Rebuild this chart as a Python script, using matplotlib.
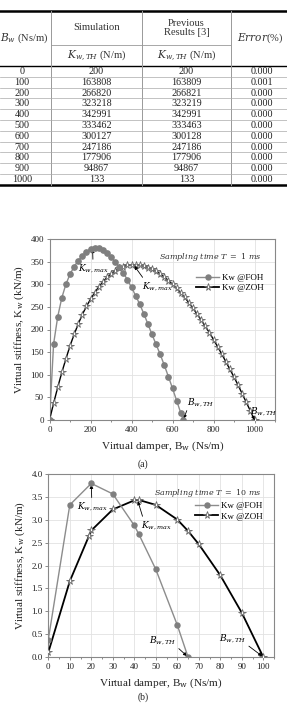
import numpy as np
import matplotlib.pyplot as plt
from matplotlib.ticker import MultipleLocator, FormatStrFormatter
from matplotlib.lines import Line2D

plt.rcParams['font.family'] = ['Liberation Serif', 'DejaVu Serif']
plt.rcParams['mathtext.fontset'] = 'dejavuserif'

# table values
b_tab = [0, 100, 200, 300, 400, 500, 600, 700, 800, 900, 1000]
k_sim = [200, 163808, 266820, 323218, 342991, 333462, 300127, 247186, 177906, 94867, 133]
k_prev = [200, 163809, 266821, 323219, 342991, 333463, 300128, 247186, 177906, 94867, 133]
err = ['0.000', '0.001', '0.000', '0.000', '0.000', '0.000',
       '0.000', '0.000', '0.000', '0.000', '0.000']

# (a) T = 1 ms, K in kN/m
b_foh_a = [0, 20, 40, 60, 80, 100, 120, 140, 160, 180, 200, 220, 240, 260, 280, 300,
           320, 340, 360, 380, 400, 420, 440, 460, 480, 500, 520, 540, 560, 580, 600,
           620, 640, 652]
k_foh_a = [0, 168, 228, 270, 300, 322, 339, 352, 363, 372, 378, 381, 380, 376, 369, 360,
           350, 338, 325, 310, 293, 275, 256, 235, 212, 189, 167, 145, 121, 96, 70,
           43, 16, 0]
b_zoh_a = [0, 20, 40, 60, 80, 100, 120, 140, 160, 180, 200, 220, 240, 260, 280, 300,
           320, 340, 360, 380, 400, 420, 440, 460, 480, 500, 520, 540, 560, 580, 600,
           620, 640, 660, 680, 700, 720, 740, 760, 780, 800, 820, 840, 860, 880, 900,
           920, 940, 960, 980, 1000]
k_zoh_a = [0.2, 37, 72, 105, 135, 163.8, 189, 212, 233, 251, 266.8, 281, 294, 305, 315, 323.2,
           330, 335, 339, 342, 343.0, 343, 342, 340, 337, 333.5, 329, 323, 316, 308, 300.1,
           291, 281, 271, 259, 247.2, 234, 221, 207, 193, 177.9, 162, 146, 129, 112, 94.9,
           77, 58, 39, 20, 0.1]

# (b) T = 10 ms
b_foh_b = [0, 10, 20, 30, 40, 42, 50, 60, 65]
k_foh_b = [0.38, 3.33, 3.80, 3.57, 2.88, 2.70, 1.92, 0.70, 0.0]
b_zoh_b = [0, 10, 19, 20, 30, 40, 42, 50, 60, 65, 70, 80, 90, 100]
k_zoh_b = [0.1, 1.66, 2.66, 2.77, 3.23, 3.43, 3.44, 3.33, 3.01, 2.76, 2.47, 1.79, 0.97, 0.0]

W, H = 287, 704
fig = plt.figure(figsize=(W / 100, H / 100), dpi=100)


def box(x0, y0, x1, y1):
    return [x0 / W, 1 - y1 / H, (x1 - x0) / W, (y1 - y0) / H]


# ---- table (pixel coords) ----
tab = fig.add_axes([0, 0, 1, 1])
tab.set_xlim(0, W)
tab.set_ylim(H, 0)
tab.axis('off')

col_x = [0, 50.7, 141.7, 230.7, W]
col_c = [24, 96.5, 186.5, 260]
top, mid, head, row_h = 11, 45, 66, 10.8
bottom = head + row_h * len(b_tab)
txt = dict(fontsize=7.3, color='#222', ha='center', va='center')
hdr = dict(fontsize=7.6, color='#333', ha='center', va='center')

tab.plot([0, W], [top, top], color='k', lw=1.8)
tab.plot([0, W], [head, head], color='k', lw=1.0)
tab.plot([0, W], [bottom, bottom], color='k', lw=1.8)
tab.plot([col_x[1], col_x[3]], [mid, mid], color='#999', lw=0.6)
for xv in col_x[1:4]:
    tab.plot([xv, xv], [top, bottom], color='#999', lw=0.7)
for i in range(1, len(b_tab)):
    tab.plot([0, W], [head + i * row_h] * 2, color='#aaa', lw=0.5)

tab.text(col_c[0], (top + head) / 2, r'$B_w$ (Ns/m)', **hdr)
tab.text(col_c[1], (top + mid) / 2, 'Simulation', **hdr)
tab.text(col_c[2], (top + mid) / 2, 'Previous\nResults [3]', linespacing=1.05, **hdr)
tab.text(col_c[1], (mid + head) / 2, r'$K_{w,TH}$ (N/m)', **hdr)
tab.text(col_c[2], (mid + head) / 2, r'$K_{w,TH}$ (N/m)', **hdr)
tab.text(col_c[3], (top + head) / 2, r'$Error$(%)', **hdr)

for i in range(len(b_tab)):
    y = head + (i + 0.5) * row_h
    tab.text(col_c[0] - 2, y, str(b_tab[i]), **txt)
    tab.text(col_c[1], y, str(k_sim[i]), **txt)
    tab.text(col_c[2], y, str(k_prev[i]), **txt)
    tab.text(col_c[3] + 2, y, err[i], **txt)


# ---- charts ----
def style(ax):
    for s in ax.spines.values():
        s.set_color('#888')
        s.set_linewidth(0.8)
    ax.tick_params(which='both', direction='out', color='#777', width=0.6,
                   labelsize=6.5, labelcolor='#222', pad=1.5)
    ax.tick_params(which='major', length=2.5)
    ax.tick_params(which='minor', length=1.5)
    ax.grid(True, which='major', color='#e2e2e2', lw=0.6)
    ax.set_axisbelow(True)
    ax.set_ylabel(r'Virtual stiffness, K$_\mathrm{w}$ (kN/m)', fontsize=8, color='#222', labelpad=3)
    ax.set_xlabel(r'Virtual damper, B$_\mathrm{w}$ (Ns/m)', fontsize=8, color='#222', labelpad=4)


arrow = dict(arrowstyle='-|>', color='k', lw=0.6, mutation_scale=5, shrinkA=0, shrinkB=1)
ann = dict(fontsize=6.5, ha='center', va='center')

ax1 = fig.add_axes(box(49.5, 239, 275, 420))
ax1.plot(b_zoh_a, k_zoh_a, color='k', lw=1.0, marker='*', ms=5.5, mfc='white',
         mec='#666', mew=0.6, zorder=3)
ax1.plot(b_foh_a, k_foh_a, color='#8c8c8c', lw=1.0, marker='o', ms=3.8,
         mfc='#7f7f7f', mec='#7f7f7f', zorder=4)
ax1.set_xlim(0, 1100)
ax1.set_ylim(0, 400)
ax1.xaxis.set_major_locator(MultipleLocator(200))
ax1.xaxis.set_minor_locator(MultipleLocator(100))
ax1.yaxis.set_major_locator(MultipleLocator(50))
style(ax1)
ax1.annotate(r'$K_{w,max}$', xy=(210, 381), xytext=(213, 336), arrowprops=arrow, **ann)
ax1.annotate(r'$K_{w,max}$', xy=(410, 343), xytext=(528, 296),
             arrowprops=dict(arrow, relpos=(0.1, 0.9)), **ann)
ax1.annotate(r'$B_{w,TH}$', xy=(652, 0), xytext=(737, 40),
             arrowprops=dict(arrow, relpos=(0.05, 0.1)), **ann)
ax1.annotate(r'$B_{w,TH}$', xy=(1000, 0), xytext=(1044, 20),
             arrowprops=dict(arrow, relpos=(0.1, 0.1)), **ann)
ax1.text(0.942, 0.9, r'$Sampling\ time\ T\ =\ 1\ ms$', transform=ax1.transAxes,
         fontsize=5.8, ha='right', va='center', color='#333')

ax2 = fig.add_axes(box(48.3, 474.3, 274, 657))
ax2.plot(b_zoh_b, k_zoh_b, color='k', lw=1.3, marker='*', ms=5.5, mfc='white',
         mec='#666', mew=0.6, zorder=3)
ax2.plot(b_foh_b, k_foh_b, color='#8c8c8c', lw=1.0, marker='o', ms=3.6,
         mfc='#7f7f7f', mec='#7f7f7f', zorder=4)
ax2.set_xlim(0, 105)
ax2.set_ylim(0, 4)
ax2.xaxis.set_major_locator(MultipleLocator(10))
ax2.xaxis.set_minor_locator(MultipleLocator(5))
ax2.yaxis.set_major_locator(MultipleLocator(0.5))
ax2.yaxis.set_major_formatter(FormatStrFormatter('%.1f'))
style(ax2)
ax2.annotate(r'$K_{w,max}$', xy=(20, 3.80), xytext=(20.3, 3.30), arrowprops=arrow, **ann)
ax2.annotate(r'$K_{w,max}$', xy=(41.5, 3.44), xytext=(50.1, 2.89),
             arrowprops=dict(arrow, relpos=(0.1, 0.9)), **ann)
ax2.annotate(r'$B_{w,TH}$', xy=(65, 0), xytext=(53.1, 0.37),
             arrowprops=dict(arrow, relpos=(0.95, 0.1)), **ann)
ax2.annotate(r'$B_{w,TH}$', xy=(100, 0), xytext=(85.7, 0.41),
             arrowprops=dict(arrow, relpos=(0.95, 0.1)), **ann)
ax2.text(0.947, 0.898, r'$Sampling\ time\ T\ =\ 10\ ms$', transform=ax2.transAxes,
         fontsize=5.8, ha='right', va='center', color='#333')

h_foh = Line2D([], [], color='#8c8c8c', lw=1.0, marker='o', ms=3.6, mfc='#7f7f7f', mec='#7f7f7f')
h_zoh = Line2D([], [], color='k', lw=1.3, marker='*', ms=5.5, mfc='white', mec='#666', mew=0.6)
for ax, y in [(ax1, 0.81), (ax2, 0.85)]:
    ax.legend([h_foh, h_zoh], ['Kw @FOH', 'Kw @ZOH'], loc='upper right',
              bbox_to_anchor=(0.95, y), frameon=False, fontsize=6.5, handlelength=2.6,
              handletextpad=0.3, labelspacing=0.25, borderpad=0, borderaxespad=0)

fig.text(143 / W, 1 - 464 / H, '(a)', fontsize=7, ha='center', va='center', color='#222')
fig.text(143 / W, 1 - 697 / H, '(b)', fontsize=7, ha='center', va='center', color='#222')

fig.savefig('out.png', dpi=100)
